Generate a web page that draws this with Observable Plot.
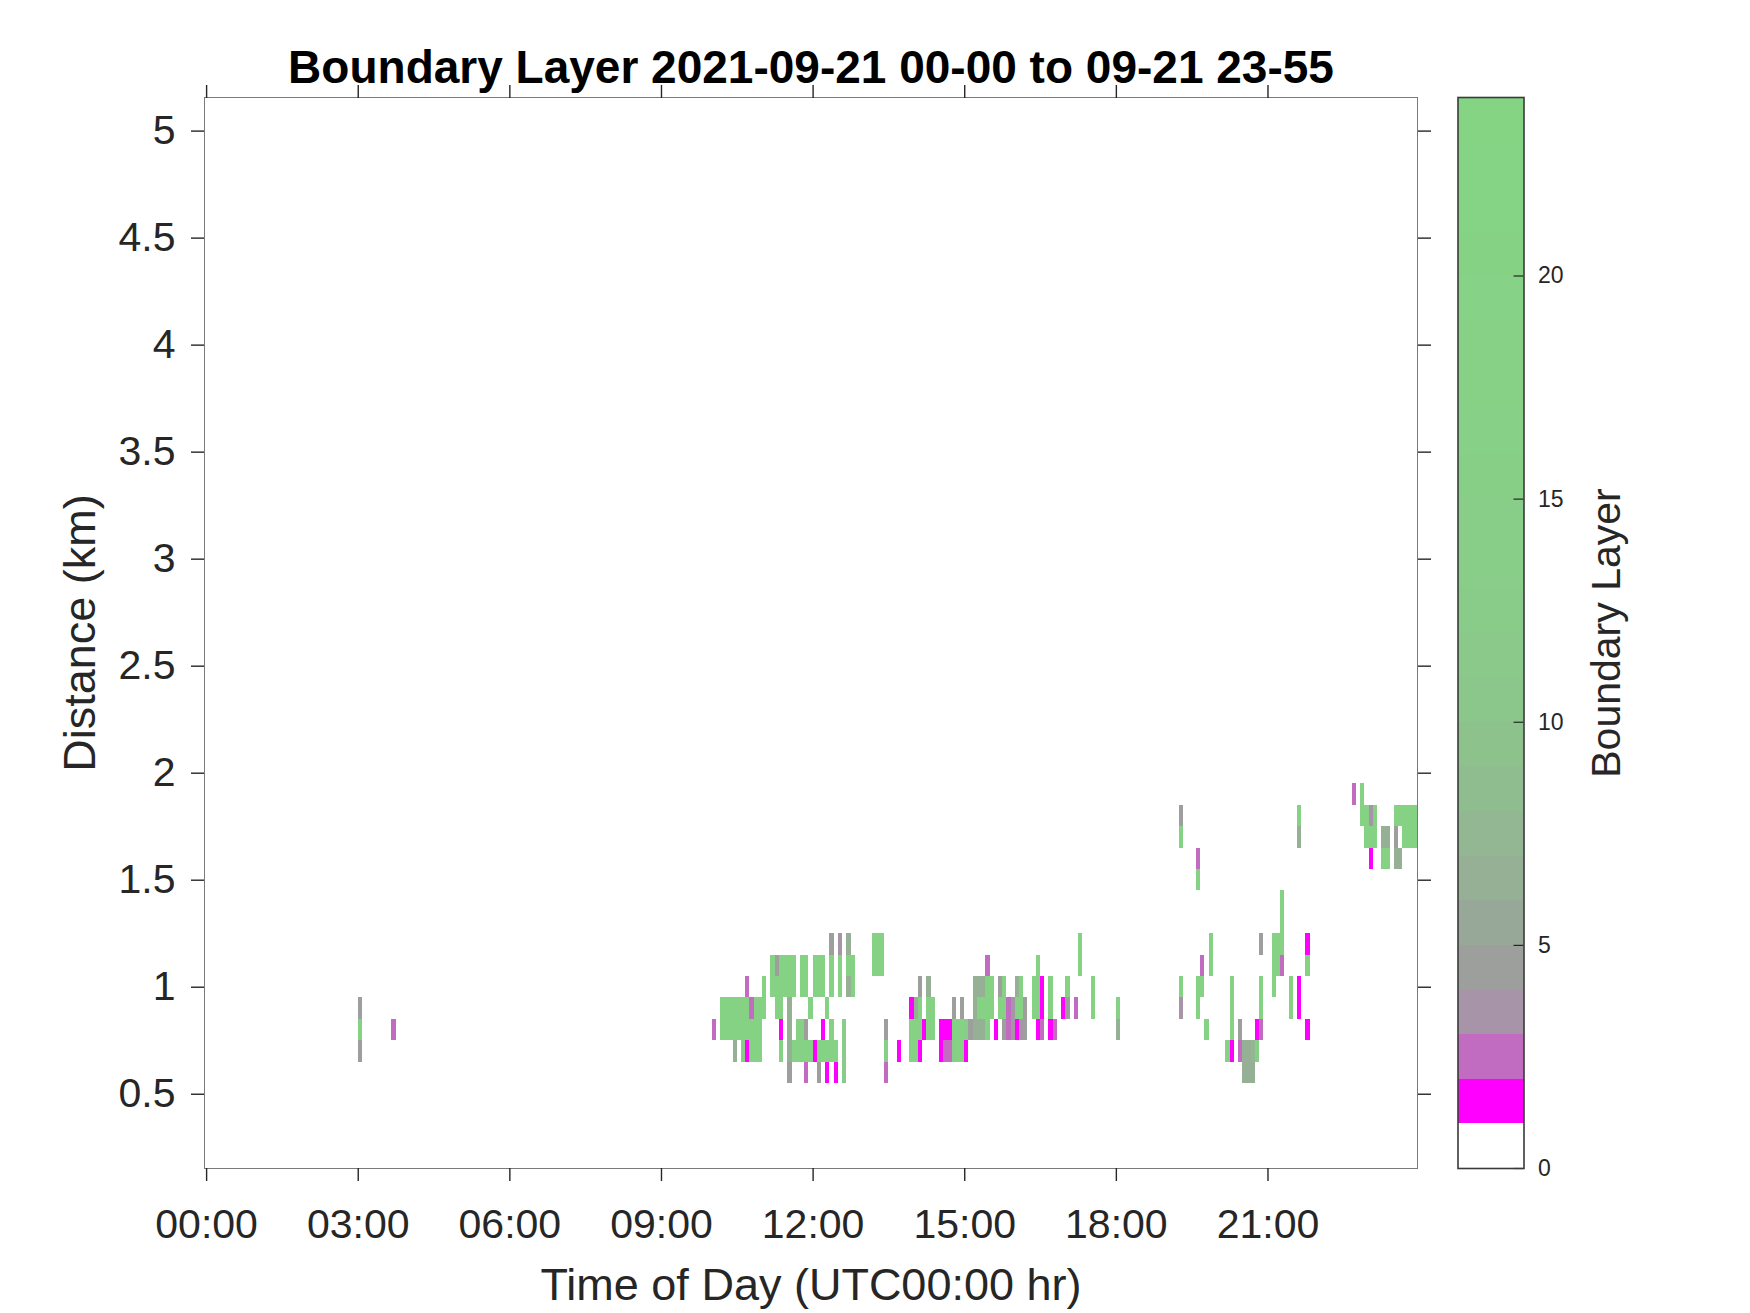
<!DOCTYPE html>
<html>
<head>
<meta charset="utf-8">
<script src="https://cdn.jsdelivr.net/npm/d3@7"></script>
<script src="https://cdn.jsdelivr.net/npm/@observablehq/plot@0.6"></script>
<style>
  html, body { margin: 0; padding: 0; background: #ffffff; }
  #chart { position: relative; width: 1750px; height: 1313px; overflow: hidden; }
  #chart svg { position: absolute; top: 0; }
</style>
</head>
<body>
<div id="chart"></div>
<script>
// ---------- texts ----------
const title = "Boundary Layer 2021-09-21 00-00 to 09-21 23-55";
const xLabel = "Time of Day (UTC00:00 hr)";
const yLabel = "Distance (km)";
const colorLabel = "Boundary Layer";

// ---------- ticks ----------
const xTicks = ["00:00", "03:00", "06:00", "09:00", "12:00", "15:00", "18:00", "21:00"];
const yTicks = [0.5, 1, 1.5, 2, 2.5, 3, 3.5, 4, 4.5, 5];
const colorTicks = [0, 5, 10, 15, 20];

// ---------- colour map (0..24, one colour per unit) ----------
const levelEdges = [1, 2, 3, 4, 5, 6, 7, 8, 9, 10, 11, 12, 13, 14, 15, 16, 17, 18, 19, 20, 21, 22, 23];
const levelColors = [
  "#ffffff", "#ff00ff", "#c16bc1", "#a894a8", "#9c9f9c", "#98a898", "#95b095", "#92b792",
  "#8fbd8f", "#8dc28d", "#8bc68b", "#8ac98a", "#89cb89", "#88cd88", "#88ce88", "#87cf87",
  "#87d087", "#86d186", "#86d186", "#86d286", "#85d285", "#85d385", "#85d385", "#84d484"
];

// ---------- data: per range gate (km), [time of 5-min bin, boundary layer value] ----------
const row_0_6 = [["11:30",4.5],["11:50",2.5],["12:05",4.5],["12:15",1.5],["12:25",1.5],["12:35",12],["13:25",2.5],
  ["20:30",6],["20:35",6],["20:40",6]];
const row_0_7 = [["03:00",4.5],["10:25",6],["10:35",14],["10:40",1.5],["10:45",20],["10:50",20],["10:55",20],
  ["11:20",20],["11:30",6.5],["11:35",20],["11:40",20],["11:45",20],["11:50",20],["11:55",20],["12:00",1.5],
  ["12:05",20],["12:10",20],["12:15",20],["12:20",20],["12:25",20],["12:35",12],["13:25",14],["13:40",1.5],
  ["13:55",20],["14:00",20],["14:05",1.5],["14:30",1.5],["14:35",2.5],["14:40",2.5],["14:45",14],["14:50",20],
  ["14:55",20],["15:00",1.5],["20:10",20],["20:15",1.5],["20:25",2.5],["20:30",6],["20:35",6],["20:40",7],["20:45",14]];
const row_0_8 = [["03:00",20],["03:40",2.5],["10:00",2.5],["10:10",20],["10:15",20],["10:20",20],["10:25",20],
  ["10:30",20],["10:35",20],["10:40",20],["10:45",20],["10:50",20],["10:55",20],["11:20",1.5],["11:30",6.5],
  ["11:40",20],["11:45",20],["11:50",4.5],["12:10",1.5],["12:20",20],["12:35",14],["13:25",4.5],["13:55",20],
  ["14:00",20],["14:05",20],["14:10",1.5],["14:15",20],["14:20",20],["14:30",1.5],["14:35",1.5],["14:40",1.5],
  ["14:45",20],["14:50",20],["14:55",20],["15:00",14],["15:05",4.5],["15:10",6.5],["15:15",6.5],["15:20",6.5],
  ["15:25",20],["15:35",1.5],["15:45",4.5],["15:50",2.5],["15:55",3.5],["16:00",1.5],["16:05",3.5],["16:10",4.5],
  ["16:25",1.5],["16:30",2.5],["16:40",1.5],["16:45",2.5],["18:00",6.5],["19:45",20],["20:15",20],["20:25",4.5],
  ["20:45",1.5],["20:50",2.5],["21:45",1.5]];
const row_0_9 = [["03:00",4.5],["10:10",20],["10:15",20],["10:20",20],["10:25",20],["10:30",20],["10:35",20],
  ["10:40",20],["10:45",2.5],["10:50",20],["10:55",20],["11:00",20],["11:15",20],["11:20",20],["11:30",6.5],
  ["11:55",20],["12:15",20],["13:55",1.5],["14:00",6.5],["14:05",20],["14:15",20],["14:20",20],["14:45",4.5],
  ["14:55",4.5],["15:10",6.5],["15:15",20],["15:20",20],["15:25",20],["15:30",20],["15:40",20],["15:45",20],
  ["15:50",2.5],["15:55",3.5],["16:00",20],["16:05",20],["16:10",4.5],["16:20",20],["16:25",20],["16:30",1.5],
  ["16:40",20],["16:55",1.5],["17:00",4.5],["17:10",2.5],["17:30",20],["18:00",20],["19:15",3.5],["19:35",20],
  ["20:15",20],["20:50",20],["21:25",20],["21:35",1.5]];
const row_1_0 = [["10:40",2.5],["11:00",20],["11:10",20],["11:15",20],["11:20",20],["11:25",20],["11:30",20],
  ["11:35",20],["11:45",20],["11:50",20],["12:00",20],["12:05",20],["12:10",20],["12:20",20],["12:30",20],
  ["12:40",6.5],["12:45",20],["14:05",4.5],["14:15",6.5],["15:10",6.5],["15:15",6.5],["15:20",6.5],["15:25",20],
  ["15:30",20],["15:40",4.5],["15:45",20],["16:00",6.5],["16:05",20],["16:20",20],["16:25",20],["16:30",1.5],
  ["16:40",20],["17:00",20],["17:30",20],["19:15",20],["19:35",20],["19:40",20],["20:15",20],["20:50",20],
  ["21:05",20],["21:25",20],["21:35",1.5]];
const row_1_1 = [["11:10",20],["11:15",4.5],["11:20",20],["11:25",20],["11:30",20],["11:35",20],["11:45",20],
  ["11:50",20],["12:00",20],["12:05",20],["12:10",20],["12:20",20],["12:30",20],["12:40",20],["12:45",20],
  ["13:10",20],["13:15",20],["13:20",20],["15:25",2.5],["16:25",20],["17:15",20],["19:40",2.5],["19:50",20],
  ["21:05",20],["21:10",20],["21:15",2.5],["21:45",20]];
const row_1_2 = [["12:20",4.5],["12:30",3.5],["12:40",6.5],["13:10",20],["13:15",20],["13:20",20],["17:15",20],
  ["19:50",20],["20:50",4.5],["21:05",20],["21:10",20],["21:15",20],["21:45",1.5]];
const row_1_3 = [["21:15",20]];
const row_1_4 = [["21:15",20]];
const row_1_5 = [["19:35",20]];
const row_1_6 = [["19:35",2.5],["23:00",1.5],["23:15",20],["23:20",20],["23:30",6.5],["23:35",6.5]];
const row_1_7 = [["19:15",20],["21:35",6.5],["22:55",20],["23:00",20],["23:05",20],["23:15",6.5],["23:20",6.5],
  ["23:30",4.5],["23:40",20],["23:45",20],["23:50",20],["23:55",20]];
const row_1_8 = [["19:15",4.5],["21:35",20],["22:50",20],["22:55",20],["23:00",3.5],["23:05",20],["23:30",20],
  ["23:35",20],["23:40",20],["23:45",20],["23:50",20],["23:55",20]];
const row_1_9 = [["22:40",2.5],["22:50",20]];

const heights = [0.6, 0.7, 0.8, 0.9, 1.0, 1.1, 1.2, 1.3, 1.4, 1.5, 1.6, 1.7, 1.8, 1.9];
const rows = [row_0_6, row_0_7, row_0_8, row_0_9, row_1_0, row_1_1, row_1_2, row_1_3, row_1_4, row_1_5,
  row_1_6, row_1_7, row_1_8, row_1_9];
const binMinutes = 5;
const gateKm = 0.1;

// ---------- build table ----------
const toMin = s => { const [h, m] = s.split(":").map(Number); return h * 60 + m; };
const cells = [];
rows.forEach((arr, i) => arr.forEach(([t, v]) => cells.push({t: toMin(t), h: heights[i], v})));
const xTickValues = xTicks.map(toMin);

const font = "'Liberation Sans', Arial, Helvetica, sans-serif";
const colorScale = {type: "threshold", domain: levelEdges, range: levelColors};
const ink = "#262626";

const main = Plot.plot({
  width: 1440, height: 1313,
  marginLeft: 204, marginRight: 23, marginTop: 97, marginBottom: 145,
  style: {fontFamily: font, color: ink, background: "transparent", overflow: "visible"},
  x: {domain: [-2.5, 1437.5]},
  y: {domain: [0.153, 5.157]},
  color: colorScale,
  marks: [
    Plot.rect(cells, {
      x1: "t", x2: d => d.t + binMinutes,
      y1: d => d.h - gateKm / 2, y2: d => d.h + gateKm / 2,
      fill: "v", shapeRendering: "crispEdges", clip: true
    }),
    Plot.frame({stroke: "#7a7a7a", strokeWidth: 1}),
    Plot.axisX(xTickValues, {anchor: "bottom", tickSize: 13, tickPadding: 27, strokeWidth: 1.4,
      fontSize: 41, tickFormat: d => xTicks[xTickValues.indexOf(d)], label: null}),
    Plot.axisX(xTickValues, {anchor: "top", tickSize: 13, strokeWidth: 1.4, fill: "none", label: null}),
    Plot.axisY(yTicks, {anchor: "left", tickSize: 13, tickPadding: 16, strokeWidth: 1.4,
      fontSize: 41, tickFormat: d => String(d), label: null}),
    Plot.axisY(yTicks, {anchor: "right", tickSize: 13, strokeWidth: 1.4, fill: "none", label: null}),
    Plot.text([title], {frameAnchor: "top", dy: -47, fontSize: 46, fontWeight: "bold", fill: "#000"}),
    Plot.text([xLabel], {frameAnchor: "bottom", dy: 131, fontSize: 45, fill: ink}),
    Plot.text([yLabel], {frameAnchor: "left", textAnchor: "middle", dx: -124, rotate: -90, fontSize: 45, fill: ink})
  ]
});
main.style.left = "0px";

const levels = levelColors.map((c, i) => i);
const cbar = Plot.plot({
  width: 300, height: 1313,
  marginLeft: 7.5, marginRight: 226.5, marginTop: 97, marginBottom: 145,
  style: {fontFamily: font, color: ink, background: "transparent", overflow: "visible"},
  x: {axis: null},
  y: {domain: [0, 24]},
  color: colorScale,
  marks: [
    Plot.rect(levels, {y1: d => d, y2: d => d + 1, fill: d => d + 0.5, shapeRendering: "crispEdges"}),
    Plot.ruleY(colorTicks, {insetLeft: 56, stroke: ink, strokeWidth: 1.2}),
    Plot.frame({stroke: "#3a3a3a", strokeWidth: 1.6}),
    Plot.axisY(colorTicks, {anchor: "right", tickSize: 0, tickPadding: 14, fontSize: 23,
      tickFormat: d => String(d), label: null}),
    Plot.text([colorLabel], {frameAnchor: "right", textAnchor: "middle", dx: 83, rotate: -90, fontSize: 41, fill: ink})
  ]
});
cbar.style.left = "1450px";

const chart = document.getElementById("chart");
chart.appendChild(main);
chart.appendChild(cbar);
</script>
</body>
</html>
